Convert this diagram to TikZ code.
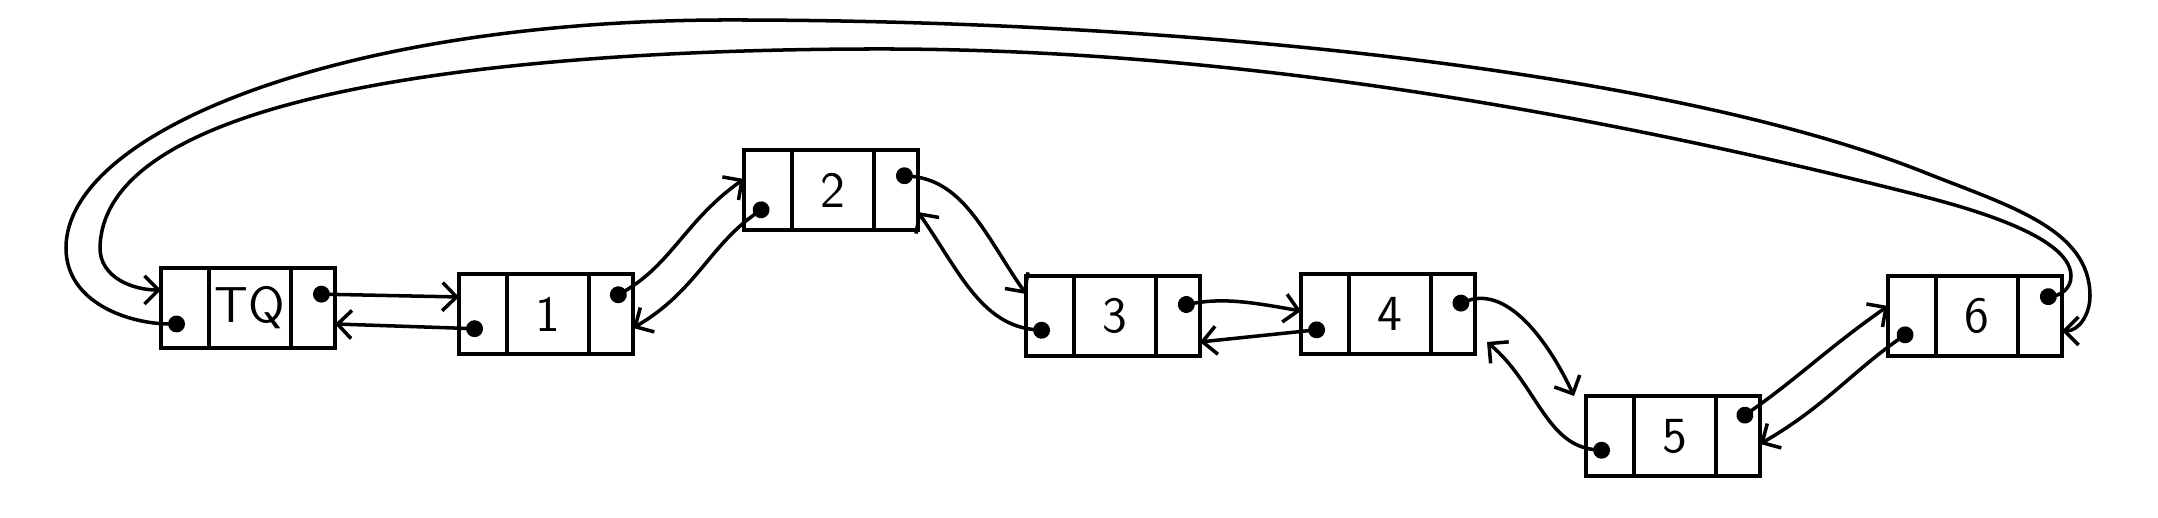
\documentclass[tikz,border=0pt]{standalone}
\usepackage{tikz}
\usetikzlibrary{arrows.meta, positioning}

\begin{document}
\begin{tikzpicture}[
    cell/.style={rectangle, draw, line width=1.2pt, outer sep=0pt, minimum height=0.8cm},
    val/.style={cell, minimum width=0.82cm, inner sep=0pt, font=\sffamily\Large},
    prv/.style={cell, minimum width=0.48cm},
    nxt/.style={cell, minimum width=0.44cm},
    ptr/.style={line width=1pt, {Circle[length=4.8pt]}-{Straight Barb[length=4pt, width=8pt]}}
]
    \useasboundingbox (0,0) rectangle (21.58,5.18);

    % TQ
    \node[val] (tq) at (2.50, 2.10) {TQ};
    \node[prv, left=0pt of tq] (tqp) {};
    \node[nxt, right=0pt of tq] (tqn) {};

    % 1
    \node[val] (e1) at (5.48, 2.04) {1};
    \node[prv, left=0pt of e1] (e1p) {};
    \node[nxt, right=0pt of e1] (e1n) {};

    % 2
    \node[val] (e2) at (8.33, 3.28) {2};
    \node[prv, left=0pt of e2] (e2p) {};
    \node[nxt, right=0pt of e2] (e2n) {};

    % 3
    \node[val] (e3) at (11.15, 2.02) {3};
    \node[prv, left=0pt of e3] (e3p) {};
    \node[nxt, right=0pt of e3] (e3n) {};

    % 4
    \node[val] (e4) at (13.90, 2.04) {4};
    \node[prv, left=0pt of e4] (e4p) {};
    \node[nxt, right=0pt of e4] (e4n) {};

    % 5
    \node[val] (e5) at (16.75, 0.82) {5};
    \node[prv, left=0pt of e5] (e5p) {};
    \node[nxt, right=0pt of e5] (e5n) {};

    % 6
    \node[val] (e6) at (19.77, 2.02) {6};
    \node[prv, left=0pt of e6] (e6p) {};
    \node[nxt, right=0pt of e6] (e6n) {};

    % TQ <-> 1
    \draw[ptr] ([yshift=0.14cm]tqn.center) -- ([yshift=0.17cm]e1p.west);
    \draw[ptr] ([yshift=-0.15cm]e1p.center) -- ([yshift=-0.16cm]tqn.east);

    % 1 <-> 2
    \draw[ptr] ([yshift=0.15cm]e1n.center) to[out=30, in=215] ([yshift=0.11cm]e2p.west);
    \draw[ptr] ([yshift=-0.15cm]e2p.center) to[out=215, in=30] ([yshift=-0.14cm]e1n.east);

    % 2 <-> 3
    \draw[ptr] ([yshift=0.15cm]e2n.center) to[out=-5, in=125] ([yshift=0.22cm]e3p.west);
    \draw[ptr] ([yshift=-0.15cm]e3p.center) to[out=175, in=-55] ([yshift=-0.22cm]e2n.east);

    % 3 <-> 4
    \draw[ptr] ([yshift=0.1cm]e3n.center) to[out=10, in=170] ([yshift=0.03cm]e4p.west);
    \draw[ptr] ([yshift=-0.15cm]e4p.center) -- ([yshift=-0.26cm]e3n.east);

    % 4 <-> 5
    \draw[ptr] ([yshift=0.08cm]e4n.center) to[out=20, in=115] ([xshift=-0.12cm]e5p.north west);
    \draw[ptr] ([yshift=-0.15cm]e5p.center) to[out=175, in=-40] ([shift={(0.12,0.12)}]e4n.south east);

    % 5 <-> 6
    \draw[ptr] ([yshift=0.16cm]e5n.center) to[out=35, in=215] ([yshift=0.1cm]e6p.west);
    \draw[ptr] ([yshift=-0.14cm]e6p.center) to[out=215, in=30] ([yshift=-0.08cm]e5n.east);

    % 6 -> TQ (inner arc)
    \draw[ptr] ([yshift=0.18cm]e6n.center) .. controls (20.59, 2.23) and (20.71, 2.28) .. (20.71, 2.42)
        .. controls (20.71, 2.84) and (19.57, 3.13) .. (19.10, 3.25)
        .. controls (15.76, 4.09) and (12.25, 4.69) .. (8.81, 4.69)
        .. controls (5.50, 4.69) and (1.03, 4.35) .. (1.00, 2.70)
        to[out=-90, in=180] ([yshift=0.18cm]tqp.west);

    % TQ -> 6 (outer arc)
    \draw[ptr] ([yshift=-0.16cm]tqp.center) to[out=180, in=-90] (0.66, 2.70)
        .. controls (0.66, 3.87) and (3.44, 4.98) .. (7.29, 4.98)
        .. controls (11.83, 4.98) and (16.71, 4.47) .. (19.26, 3.45)
        .. controls (20.09, 3.12) and (20.90, 2.89) .. (20.90, 2.22)
        to[out=-90, in=0] ([yshift=-0.15cm]e6n.east);
\end{tikzpicture}
\end{document}
